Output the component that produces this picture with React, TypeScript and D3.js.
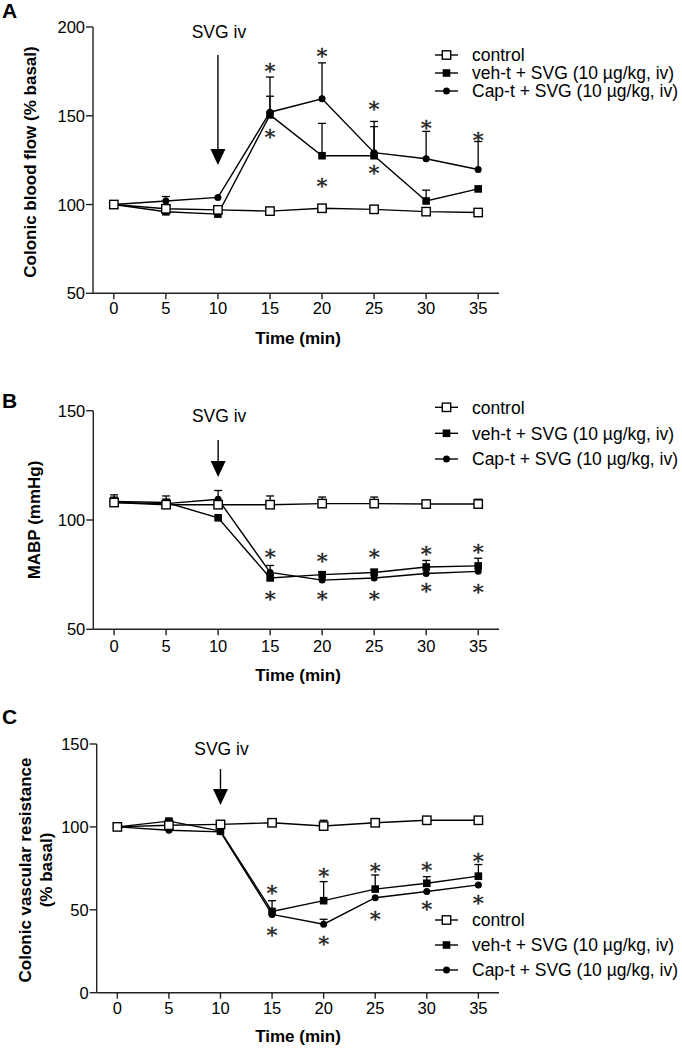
import React from 'react'
import * as d3 from 'd3'

const width = 682
const height = 1048
const sans = 'Liberation Sans, Arial, Helvetica, sans-serif'

// time points (min)
const times = [0, 5, 10, 15, 20, 25, 30, 35]
const xTicks = [0, 5, 10, 15, 20, 25, 30, 35]
const groupNames = ['control', 'veh-t + SVG (10 µg/kg, iv)', 'Cap-t + SVG (10 µg/kg, iv)']

// A: colonic blood flow (% basal)
const flowControl = [100, 97.6, 97, 96.3, 97.9, 97.3, 96, 95.5]
const flowControlErr = [0, 0, 0, 0, 0, 0, 0, 0]
const flowVeh = [100, 95.9, 94.6, 150.5, 127.5, 127.5, 102, 108.8]
const flowVehErr = [0, 0, 0, 10.5, 18.2, 16.4, 6.1, 0]
const flowCap = [100, 102, 104, 152, 159.6, 129.2, 125.8, 119.7]
const flowCapErr = [0, 2.5, 0, 19.8, 20.2, 17.6, 15.4, 15.8]
const flowStarsUp = [null, null, null, 178, 186.4, 156.4, 145.7, 138.9]
const flowStarsDown = [null, null, null, 140.6, 113.1, 120.3, null, null]
const flowTicks = [50, 100, 150, 200]

// B: MABP (mmHg)
const mabpControl = [108, 107, 107, 107, 107.5, 107.5, 107.3, 107.3]
const mabpControlErr = [3.5, 1.5, 0, 4, 3, 3, 1, 2.2]
const mabpVeh = [108.5, 108, 101, 73.5, 75, 76, 78.5, 79]
const mabpVehErr = [2, 3, 0, 0, 1, 1.5, 3, 3.5]
const mabpCap = [108, 107.5, 109.5, 76, 72.5, 73.5, 75.5, 76.5]
const mabpCapErr = [0, 2, 4, 3.2, 0, 0, 0, 0]
const mabpStarsUp = [null, null, null, 85, 83.2, 85, 86.3, 87.6]
const mabpStarsDown = [null, null, null, 66.1, 66.1, 66.1, 69.5, 69.2]
const mabpTicks = [50, 100, 150]

// C: colonic vascular resistance (% basal)
const cvrControl = [100, 101, 101.5, 102.5, 100.5, 102.5, 104, 104]
const cvrControlErr = [0, 0, 1.5, 1.5, 3.5, 2.5, 1, 1]
const cvrVeh = [100, 103.5, 97.5, 49, 55.5, 62.5, 66, 70.3]
const cvrVehErr = [0, 1, 0, 6.5, 11.5, 8.5, 4, 7]
const cvrCap = [100, 98, 97, 47.2, 41.3, 57.3, 61, 65]
const cvrCapErr = [0, 0, 0, 0, 3, 0, 0, 0]
const cvrStarsUp = [null, null, null, 63, 73, 76, 77, 82.4]
const cvrStarsDown = [null, null, null, 37.4, 31.8, 46.9, 52.9, 57]
const cvrTicks = [0, 50, 100, 150]

const panels = [
  {
    letter: 'A', letterY: 18,
    axisX: 93, yTop: 27, yBottom: 293.3, yDomain: [50, 200], yTicks: flowTicks,
    yTitle: ['Colonic blood flow (% basal)'], yTitleX: [36], yTitleY: 162,
    tickLabelY: 314, xTitleY: 344,
    svgTextY: 38, arrowTop: 55, arrowTip: 165,
    legendY: [55, 73, 91],
    series: [flowControl, flowVeh, flowCap],
    errors: [flowControlErr, flowVehErr, flowCapErr],
    starsUp: flowStarsUp, starsDown: flowStarsDown,
  },
  {
    letter: 'B', letterY: 408,
    axisX: 93.3, yTop: 410.7, yBottom: 629.3, yDomain: [50, 150], yTicks: mabpTicks,
    yTitle: ['MABP (mmHg)'], yTitleX: [40], yTitleY: 520,
    tickLabelY: 652, xTitleY: 680.5,
    svgTextY: 421.5, arrowTop: 440, arrowTip: 477,
    legendY: [407.3, 433.3, 459],
    series: [mabpControl, mabpVeh, mabpCap],
    errors: [mabpControlErr, mabpVehErr, mabpCapErr],
    starsUp: mabpStarsUp, starsDown: mabpStarsDown,
  },
  {
    letter: 'C', letterY: 724,
    axisX: 96.7, yTop: 744, yBottom: 992.7, yDomain: [0, 150], yTicks: cvrTicks,
    yTitle: ['Colonic vascular resistance', '(% basal)'], yTitleX: [31, 52], yTitleY: 870,
    tickLabelY: 1014, xTitleY: 1042,
    svgTextY: 755, arrowTop: 769, arrowTip: 805,
    legendY: [920, 945, 970],
    series: [cvrControl, cvrVeh, cvrCap],
    errors: [cvrControlErr, cvrVehErr, cvrCapErr],
    starsUp: cvrStarsUp, starsDown: cvrStarsDown,
  },
]

const markerKinds = ['openSquare', 'square', 'circle']

function Marker({ kind, x, y }) {
  if (kind === 'openSquare')
    return <rect x={x - 4.2} y={y - 4.2} width={8.4} height={8.4} fill="white" stroke="black" strokeWidth={1.4} />
  if (kind === 'square')
    return <rect x={x - 3.8} y={y - 3.8} width={7.6} height={7.6} fill="black" />
  return <circle cx={x} cy={y} r={3.5} fill="black" />
}

function Panel({ p }) {
  const x = d3.scaleLinear().domain([-2, 37]).range([p.axisX, 499])
  const y = d3.scaleLinear().domain(p.yDomain).range([p.yBottom, p.yTop])
  const line = d3
    .line<number>()
    .x((d, i) => x(times[i]))
    .y((d) => y(d))

  // draw order: Cap-t, veh-t, control on top
  const order = [2, 1, 0]
  const legendX0 = 435
  const legendX1 = 458

  return (
    <g>
      <text x={2} y={p.letterY} fontFamily={sans} fontWeight="bold" fontSize={21}>
        {p.letter}
      </text>

      {/* axes */}
      <line x1={p.axisX} x2={p.axisX} y1={p.yTop} y2={p.yBottom} stroke="#222" strokeWidth={1.4} />
      <line x1={p.axisX} x2={499} y1={p.yBottom} y2={p.yBottom} stroke="#222" strokeWidth={1.4} />
      {p.yTicks.map((t) => (
        <g key={t}>
          <line x1={p.axisX - 7} x2={p.axisX} y1={y(t)} y2={y(t)} stroke="#222" strokeWidth={1.4} />
          <text x={p.axisX - 8} y={y(t) + 6} textAnchor="end" fontFamily={sans} fontSize={16.5}>
            {t}
          </text>
        </g>
      ))}
      {xTicks.map((t) => (
        <g key={t}>
          <line x1={x(t)} x2={x(t)} y1={p.yBottom} y2={p.yBottom + 6} stroke="#222" strokeWidth={1.4} />
          <text x={x(t)} y={p.tickLabelY} textAnchor="middle" fontFamily={sans} fontSize={16.5}>
            {t}
          </text>
        </g>
      ))}
      <text x={298} y={p.xTitleY} textAnchor="middle" fontFamily={sans} fontWeight="bold" fontSize={17}>
        Time (min)
      </text>
      {p.yTitle.map((s, i) => (
        <text
          key={s}
          transform={`translate(${p.yTitleX[i]},${p.yTitleY}) rotate(-90)`}
          textAnchor="middle"
          fontFamily={sans}
          fontWeight="bold"
          fontSize={17}
        >
          {s}
        </text>
      ))}

      {/* SVG injection arrow */}
      <text x={x(10) + 1} y={p.svgTextY} textAnchor="middle" fontFamily={sans} fontSize={17.5}>
        SVG iv
      </text>
      <line x1={x(10)} x2={x(10)} y1={p.arrowTop} y2={p.arrowTip - 14} stroke="black" strokeWidth={1.4} />
      <path
        d={`M${x(10) - 7.5},${p.arrowTip - 16} L${x(10) + 7.5},${p.arrowTip - 16} L${x(10)},${p.arrowTip} Z`}
        fill="black"
      />

      {/* error bars (upper only) */}
      {order.map((s) =>
        p.series[s].map((v, i) =>
          p.errors[s][i] > 0 ? (
            <g key={`e${s}-${i}`} stroke="black" strokeWidth={1.3}>
              <line x1={x(times[i])} x2={x(times[i])} y1={y(v)} y2={y(v + p.errors[s][i])} />
              <line x1={x(times[i]) - 4} x2={x(times[i]) + 4} y1={y(v + p.errors[s][i])} y2={y(v + p.errors[s][i])} />
            </g>
          ) : null
        )
      )}

      {order.map((s) => (
        <g key={`s${s}`}>
          <path d={line(p.series[s]) || ''} fill="none" stroke="black" strokeWidth={1.4} />
          {p.series[s].map((v, i) => (
            <Marker key={i} kind={markerKinds[s]} x={x(times[i])} y={y(v)} />
          ))}
        </g>
      ))}

      {/* significance; thin stroke keeps the glyphs grey, not colour-fringed */}
      {[p.starsUp, p.starsDown].map((arr, k) =>
        arr.map((v, i) =>
          v == null ? null : (
            <text
              key={`st${k}-${i}`}
              x={x(times[i])}
              y={y(v) + 11.5}
              textAnchor="middle"
              fontFamily="DejaVu Serif, Liberation Serif, serif"
              fontSize={21}
              fill="#222"
              stroke="#222"
              strokeWidth={0.4}
            >
              *
            </text>
          )
        )
      )}

      {/* legend */}
      {groupNames.map((name, s) => (
        <g key={name}>
          <line x1={legendX0} x2={legendX1} y1={p.legendY[s]} y2={p.legendY[s]} stroke="black" strokeWidth={1.4} />
          <Marker kind={markerKinds[s]} x={(legendX0 + legendX1) / 2} y={p.legendY[s]} />
          <text x={472} y={p.legendY[s] + 6.2} fontFamily={sans} fontSize={17.5}>
            {name}
          </text>
        </g>
      ))}
    </g>
  )
}

export default function App() {
  return (
    <svg
      width={width}
      height={height}
      style={{ position: 'absolute', left: 0, top: 0, background: 'white' }}
    >
      {panels.map((p) => (
        <Panel key={p.letter} p={p} />
      ))}
    </svg>
  )
}
